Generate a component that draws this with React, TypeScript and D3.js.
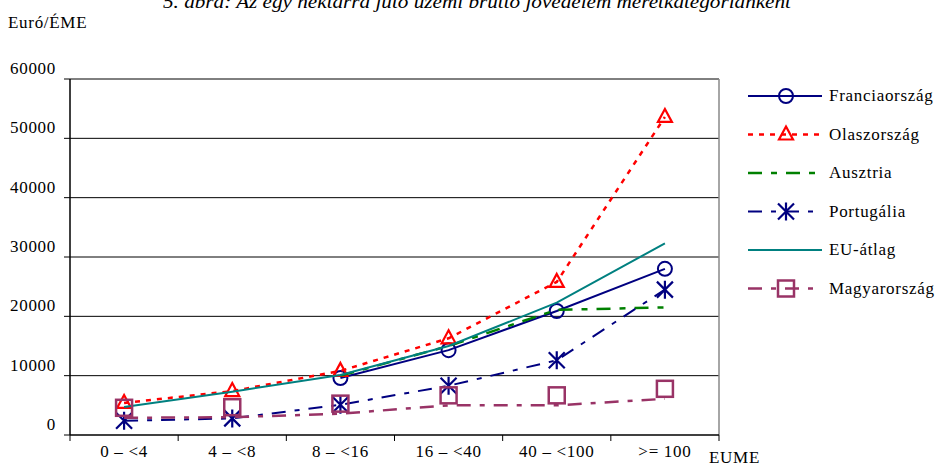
import React, { useEffect, useRef } from 'react';
import * as d3 from 'd3';

// categories (EUME size classes)
const categories = ['0 – <4', '4 – <8', '8 – <16', '16 – <40', '40 – <100', '>= 100'];
const yTicks = [0, 10000, 20000, 30000, 40000, 50000, 60000];

// Euró/ÉME values (null = no point)
const francia = [null, null, 9600, 14300, 20900, 28000];
const olasz = [5400, 7400, 10800, 16300, 25800, 53600];
const ausztria = [null, null, 10000, 15000, 21100, 21500];
const portugal = [2400, 2800, 5100, 8300, 12600, 24500];
const euAtlag = [4700, 7300, 10100, 15000, 22300, 32300];
const magyar = [2900, 3000, 3600, 5000, 5000, 6100];

const seriesNames = ['Franciaország', 'Olaszország', 'Ausztria', 'Portugália', 'EU-átlag', 'Magyarország'];

const series = [
  { name: seriesNames[0], values: francia, color: '#000080', dash: null, marker: 'circle', width: 2 },
  { name: seriesNames[1], values: olasz, color: '#ff0000', dash: '5,6', marker: 'triangle', width: 2.5 },
  { name: seriesNames[2], values: ausztria, color: '#008000', dash: '14,9,6,9', marker: null, width: 2.5 },
  { name: seriesNames[3], values: portugal, color: '#000080', dash: '14,9,5,9', marker: 'star', width: 2 },
  { name: seriesNames[4], values: euAtlag, color: '#008080', dash: null, marker: null, width: 2 },
  { name: seriesNames[5], values: magyar, color: '#993366', dash: '14,9,5,9', marker: 'square', width: 2.5 },
];

const W = 936, H = 466;
const font = 'Liberation Serif, Times New Roman, serif';

function drawMarker(g: any, type: string | null, x: number, y: number, color: string) {
  if (type === 'circle') {
    g.append('circle').attr('cx', x).attr('cy', y).attr('r', 7)
      .attr('fill', 'none').attr('stroke', color).attr('stroke-width', 2);
  } else if (type === 'triangle') {
    g.append('path')
      .attr('d', `M${x},${y - 8}L${x + 7},${y + 5}L${x - 7},${y + 5}Z`)
      .attr('fill', 'none').attr('stroke', color).attr('stroke-width', 2.2);
  } else if (type === 'star') {
    const s = 8;
    g.append('path')
      .attr('d', `M${x - s},${y - s}L${x + s},${y + s}M${x - s},${y + s}L${x + s},${y - s}M${x},${y - s - 1}L${x},${y + s + 1}`)
      .attr('stroke', color).attr('stroke-width', 2.2);
  } else if (type === 'square') {
    // the squares sit above the line in the original
    g.append('rect').attr('x', x - 8).attr('y', y - 18).attr('width', 16).attr('height', 16)
      .attr('fill', 'none').attr('stroke', color).attr('stroke-width', 2.5);
  }
}

export default function App() {
  const ref = useRef<SVGSVGElement>(null);

  useEffect(() => {
    const svg = d3.select(ref.current);
    svg.selectAll('*').remove();
    svg.attr('font-family', font).attr('font-size', 17).attr('letter-spacing', 0.7);

    const left = 70, right = 719, top = 79, bottom = 435;

    const x = d3.scaleBand().domain(categories).range([left, right]);
    const y = d3.scaleLinear().domain([0, 60000]).range([bottom, top]);
    const cx = (i: number) => (x(categories[i]) as number) + x.bandwidth() / 2;

    // title (cut at the top, as in the scan)
    svg.append('text')
      .attr('x', 477).attr('y', 8)
      .attr('text-anchor', 'middle')
      .attr('font-style', 'italic')
      .attr('font-size', 18)
      .attr('letter-spacing', 0)
      .attr('textLength', 628)
      .attr('lengthAdjust', 'spacingAndGlyphs')
      .text('5. ábra: Az egy hektárra jutó üzemi bruttó jövedelem méretkategóriánként');

    svg.append('text').attr('x', 8).attr('y', 28).text('Euró/ÉME');

    // gridlines
    svg.append('g').selectAll('line').data(yTicks.filter(d => d > 0)).enter().append('line')
      .attr('x1', left).attr('x2', right)
      .attr('y1', d => y(d)).attr('y2', d => y(d))
      .attr('stroke', '#000').attr('stroke-width', 1);

    // right border
    svg.append('line').attr('x1', right).attr('x2', right).attr('y1', top).attr('y2', bottom)
      .attr('stroke', '#888').attr('stroke-width', 1.5);

    // y axis
    svg.append('line').attr('x1', left).attr('x2', left).attr('y1', top).attr('y2', bottom)
      .attr('stroke', '#000').attr('stroke-width', 1.5);
    svg.append('g').selectAll('line').data(yTicks).enter().append('line')
      .attr('x1', left - 6).attr('x2', left)
      .attr('y1', d => y(d)).attr('y2', d => y(d))
      .attr('stroke', '#000');
    svg.append('g').selectAll('text').data(yTicks).enter().append('text')
      .attr('x', 56).attr('y', d => y(d) - 5)
      .attr('text-anchor', 'end')
      .text(d => String(d));

    // x axis
    svg.append('line').attr('x1', left).attr('x2', right).attr('y1', bottom).attr('y2', bottom)
      .attr('stroke', '#000').attr('stroke-width', 1.5);
    const bounds = categories.map(c => x(c) as number).concat([right]);
    svg.append('g').selectAll('line').data(bounds).enter().append('line')
      .attr('x1', d => d).attr('x2', d => d)
      .attr('y1', bottom).attr('y2', bottom + 6)
      .attr('stroke', '#000');
    svg.append('g').selectAll('text').data(categories).enter().append('text')
      .attr('x', (d, i) => cx(i)).attr('y', 457)
      .attr('text-anchor', 'middle')
      .text(d => d);
    svg.append('text').attr('x', 709).attr('y', 463).text('EUME');

    // lines
    const plot = svg.append('g');
    series.forEach(s => {
      const pts = s.values.map((v, i) => ({ v, i })).filter(p => p.v !== null) as { v: number; i: number }[];
      const line = d3.line<{ v: number; i: number }>()
        .x(p => cx(p.i)).y(p => y(p.v));
      plot.append('path').datum(pts)
        .attr('d', line)
        .attr('fill', 'none')
        .attr('stroke', s.color)
        .attr('stroke-width', s.width)
        .attr('stroke-dasharray', s.dash);
      pts.forEach(p => drawMarker(plot, s.marker, cx(p.i), y(p.v), s.color));
    });

    // legend
    const lg = svg.append('g');
    series.forEach((s, i) => {
      const ly = 96 + i * 38.5;
      lg.append('line').attr('x1', 748).attr('x2', 822).attr('y1', ly).attr('y2', ly)
        .attr('stroke', s.color).attr('stroke-width', s.width)
        .attr('stroke-dasharray', s.dash);
      drawMarker(lg, s.marker, 786, s.marker === 'square' ? ly + 10 : ly, s.color);
      lg.append('text').attr('x', 829).attr('y', ly + 5).text(s.name);
    });
  }, []);

  return (
    <svg ref={ref} width={W} height={H}
      style={{ position: 'absolute', left: 0, top: 0, background: '#fff' }} />
  );
}
